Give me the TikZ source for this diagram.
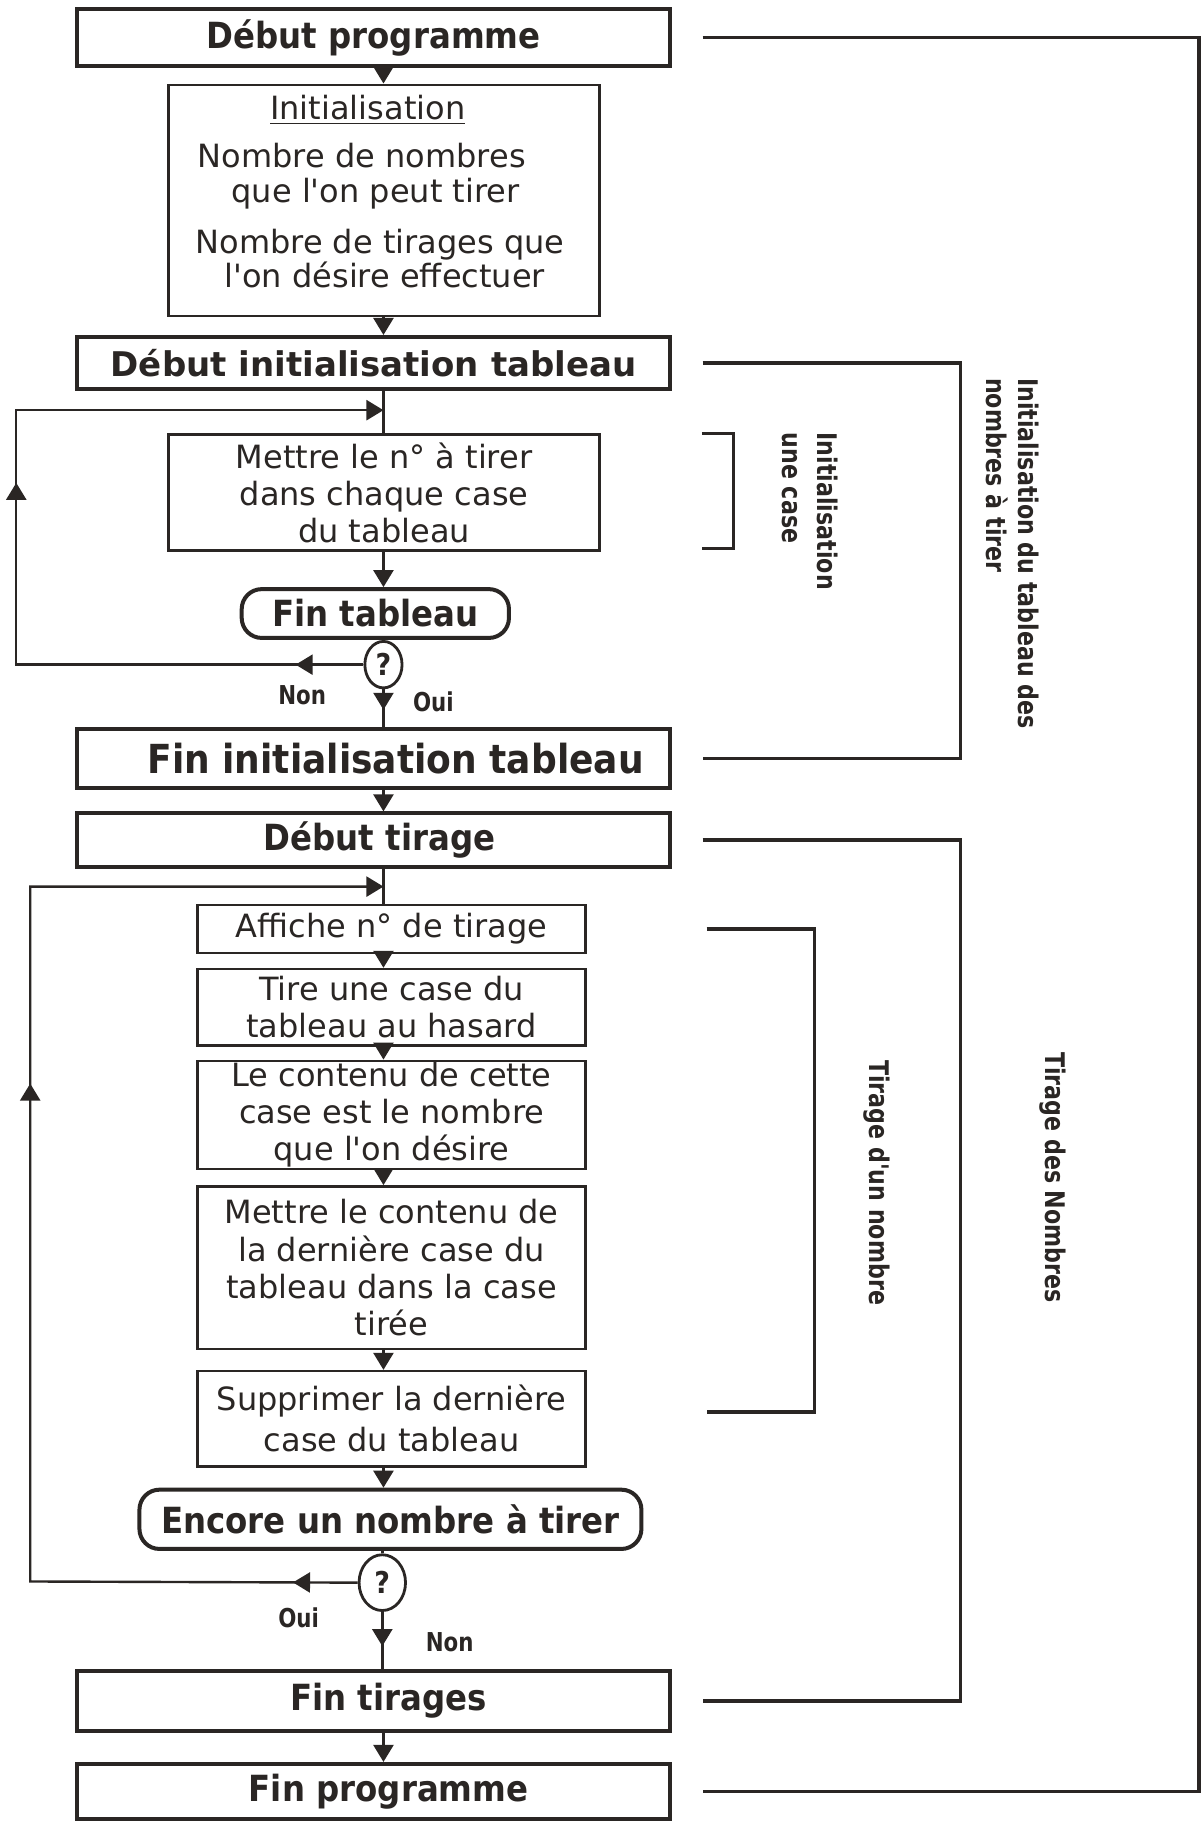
\documentclass[tikz,border=0pt]{standalone}
\usepackage{fontspec}
\setmainfont{DejaVu Sans}[Ligatures=TeXOff]
\newfontfamily\titlef[FakeStretch=0.9]{DejaVu Sans}
\newfontfamily\labf[FakeStretch=0.82,Ligatures=TeXOff]{DejaVu Sans}
\usetikzlibrary{arrows.meta,shapes.geometric,decorations.markings,calc}
\definecolor{ink}{RGB}{42,38,36}
\newcommand\Upx{0.5808pt}
\begin{document}
\begin{tikzpicture}[x=0.5808pt,y=-0.5808pt,color=ink,
  ttl/.style={font=\titlef\bfseries\fontsize{18}{20}\selectfont},
  thickbox/.style={draw, line width=2pt, inner sep=0pt, minimum width=511*\Upx, ttl},
  thinbox/.style={draw, line width=1.3pt, inner sep=0pt, align=center, font=\fontsize{16}{18.6}\selectfont},
  rbox/.style={draw, line width=2pt, rounded corners=10pt, inner sep=0pt, ttl},
  qbox/.style={draw, ellipse, line width=1.4pt, inner sep=0pt, font=\titlef\bfseries\fontsize{15}{15}\selectfont},
  body/.style={inner sep=0pt, font=\fontsize{16}{18.6}\selectfont},
  yn/.style={inner sep=0pt, font=\labf\bfseries\fontsize{13}{13}\selectfont},
  rlab/.style={rotate=-90, align=left, inner sep=0pt, font=\labf\bfseries\fontsize{13.5}{16}\selectfont},
  conn/.style={draw, line width=1.2pt},
  brk/.style={draw, line width=1.7pt},
  >={Triangle[width=10pt,length=8.5pt]},
  marr/.style={postaction={decorate}, decoration={markings, mark=at position #1 with {\arrow{Triangle[width=10pt,length=8.5pt]}}}},
  marrr/.style 2 args={postaction={decorate}, decoration={markings,
      mark=at position #1 with {\arrow{Triangle[width=10pt,length=8.5pt]}},
      mark=at position #2 with {\arrow{Triangle[width=10pt,length=8.5pt]}}}},
]
\useasboundingbox (0,0) rectangle (1033,1568);
\fill[white] (0,0) rectangle (1033,1568);

% ---------- main column ----------
\node[thickbox, minimum height=49*\Upx] (dp) at (321.5,32.5) {Début programme};
\node[thinbox, minimum width=371*\Upx, minimum height=199*\Upx] (init) at (330.5,172.5) {};
\node[body, anchor=base] (initT) at (316.5,103) {\underline{Initialisation}};
\node[body, anchor=base west] (initA) at (170,144) {Nombre de nombres};
\node[body, anchor=base west] (initB) at (199,174) {que l'on peut tirer};
\node[body, anchor=base west] (initC) at (168,218) {Nombre de tirages que};
\node[body, anchor=base west] (initD) at (193,247) {l'on désire effectuer};

\node[thickbox, minimum height=45*\Upx, font=\bfseries\fontsize{17}{20}\selectfont] (dit) at (321.5,312.5) {Début initialisation tableau};
\node[thinbox, minimum width=371*\Upx, minimum height=100*\Upx] (mettre) at (330.5,424) {Mettre le n° à tirer\\dans chaque case\\du tableau};
\node[rbox, minimum width=230*\Upx, minimum height=42*\Upx] (fintab) at (323,528) {Fin tableau};
\node[qbox, minimum width=32*\Upx, minimum height=40*\Upx] (q1) at (330,572) {?};
\node[thickbox, minimum height=51*\Upx, font=\titlef\bfseries\fontsize{20}{22}\selectfont] (fit) at (321.5,652.5) {\hspace*{22pt}Fin initialisation tableau};
\node[thickbox, minimum height=46*\Upx] (dt) at (321.5,723) {\hspace*{6pt}Début tirage};

\node[thinbox, minimum width=334*\Upx, minimum height=41*\Upx] (aff) at (337,799.5) {Affiche n° de tirage};
\node[thinbox, minimum width=334*\Upx, minimum height=66*\Upx] (tire) at (337,867) {Tire une case du\\tableau au hasard};
\node[thinbox, minimum width=334*\Upx, minimum height=93*\Upx] (cont) at (337,959.5) {Le contenu de cette\\case est le nombre\\que l'on désire};
\node[thinbox, minimum width=334*\Upx, minimum height=140*\Upx] (mcont) at (337,1091) {Mettre le contenu de\\la dernière case du\\tableau dans la case\\tirée};
\node[thinbox, minimum width=334*\Upx, minimum height=82*\Upx] (supp) at (337,1221) {Supprimer la dernière\\[2pt]case du tableau};
\node[rbox, minimum width=432*\Upx, minimum height=51*\Upx] (enc) at (336,1307.5) {Encore un nombre à tirer};
\node[qbox, minimum width=40*\Upx, minimum height=48*\Upx] (q2) at (329,1362) {?};
\node[thickbox, minimum height=52*\Upx] (ft) at (321.5,1464) {\hspace*{15pt}Fin tirages};
\node[thickbox, minimum height=47*\Upx] (fp) at (321.5,1541.5) {\hspace*{15pt}Fin programme};

% yes / no labels
\node[yn] (non1) at (260,598) {Non};
\node[yn] (oui1) at (373,604) {Oui};
\node[yn] (oui2) at (257,1392) {Oui};
\node[yn] (non2) at (387,1413) {Non};

% ---------- connectors ----------
\coordinate (spine) at (330,0);
\coordinate (j1) at (330,353);
\coordinate (l1a) at (14,572);
\coordinate (l1b) at (14,353);
\coordinate (j2) at (330,763);
\coordinate (l2a) at (26,1361);
\coordinate (l2b) at (26,763);

\draw[conn,->] (dp.south -| spine) -- (init.north -| spine);
\draw[conn,->] (init.south -| spine) -- (dit.north -| spine);
\draw[conn] (dit.south -| spine) -- (mettre.north -| spine);
\draw[conn,->] (mettre.south -| spine) -- (fintab.north -| spine);
\draw[conn] (fintab.south -| spine) -- (q1.north);
\draw[conn, marr=0.55] (q1.south) -- (fit.north -| spine);
\draw[conn, marrr={0.07}{0.546}, ->] (q1.west) -- (l1a) -- (l1b) -- (j1);

\draw[conn,->] (fit.south -| spine) -- (dt.north -| spine);
\draw[conn] (dt.south -| spine) -- (aff.north -| spine);
\draw[conn,->] (aff.south -| spine) -- (tire.north -| spine);
\draw[conn,->] (tire.south -| spine) -- (cont.north -| spine);
\draw[conn,->] (cont.south -| spine) -- (mcont.north -| spine);
\draw[conn,->] (mcont.south -| spine) -- (supp.north -| spine);
\draw[conn,->] (supp.south -| spine) -- (enc.north -| spine);
\draw[conn] (enc.south -| q2) -- (q2.north);
\draw[conn, marr=0.6] (q2.south) -- (ft.north -| q2);
\draw[conn, marrr={0.047}{0.60}, ->] (q2.west) -- (l2a) -- (l2b) -- (j2);
\draw[conn,->] (ft.south -| spine) -- (fp.north -| spine);

% ---------- right brackets ----------
\draw[brk] ($(dp.east)+(26,0)$) -| ($(fp.east)+(453,0)$) -- ($(fp.east)+(26,0)$);
\draw[brk] ($(dit.east)+(26,0)$) -| ($(fit.east)+(248,0)$) -- ($(fit.east)+(26,0)$);
\draw[brk] ($(mettre.north east)+(87,0)$) -| ($(mettre.south east)+(114,-3)$) -- ($(mettre.south east)+(87,-3)$);
\draw[brk] ($(dt.east)+(26,0)$) -| ($(ft.east)+(248,0)$) -- ($(ft.east)+(26,0)$);
\draw[brk] ($(aff.east)+(103,0)$) -| ($(supp.east)+(196,-6)$) -- ($(supp.east)+(103,-6)$);

% ---------- rotated bracket labels ----------
\node[rlab, anchor=west] (labA) at (871,325) {Initialisation du tableau des\\nombres à tirer};
\node[rlab, anchor=west] (labB) at (697,372) {Initialisation\\[1.5pt]une case};
\node[rlab, anchor=west] (labD) at (755,912) {Tirage d'un nombre};
\node[rlab, anchor=west] (labC) at (906,905) {Tirage des Nombres};
\end{tikzpicture}
\end{document}
